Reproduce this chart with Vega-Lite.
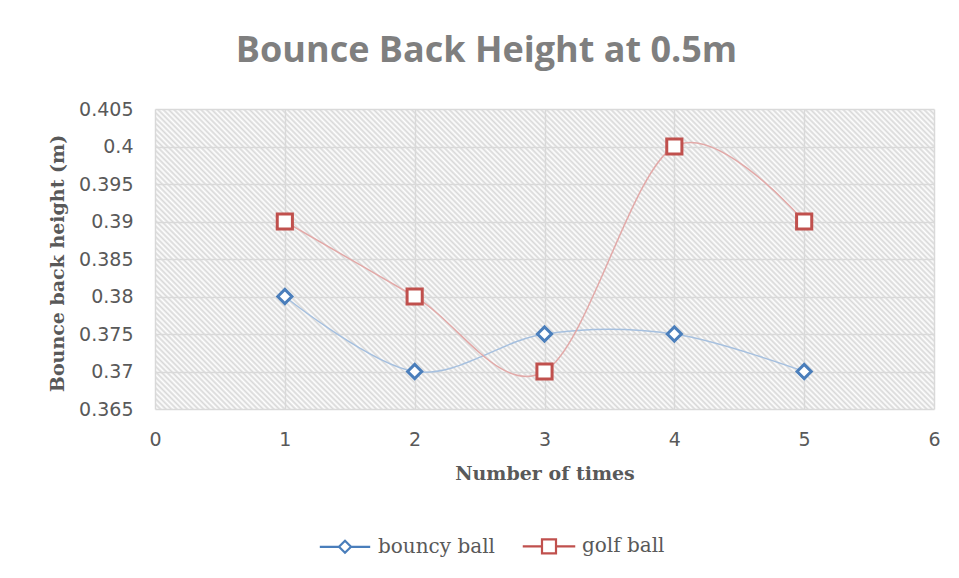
{
"$schema": "https://vega.github.io/schema/vega-lite/v6.json",
"width": 779,
"height": 300,
"autosize": {"type": "none"},
"padding": {"left": 155, "top": 109, "right": 25, "bottom": 169},
"background": "white",
"title": {"text": "Bounce Back Height at 0.5m", "font": "Open Sans", "fontSize": 36, "fontWeight": "bold", "color": "#7f7f7f", "anchor": "middle", "frame": "group", "dx": -58, "offset": 30},
"data": {"values": [
{"times": 1, "height": 0.38, "series": "bouncy ball"},
{"times": 2, "height": 0.37, "series": "bouncy ball"},
{"times": 3, "height": 0.375, "series": "bouncy ball"},
{"times": 4, "height": 0.375, "series": "bouncy ball"},
{"times": 5, "height": 0.37, "series": "bouncy ball"},
{"times": 1, "height": 0.39, "series": "golf ball"},
{"times": 2, "height": 0.38, "series": "golf ball"},
{"times": 3, "height": 0.37, "series": "golf ball"},
{"times": 4, "height": 0.4, "series": "golf ball"},
{"times": 5, "height": 0.39, "series": "golf ball"}
]},
"view": {"stroke": null, "fill": {"gradient": "linear", "x1": 0, "y1": 1, "x2": 1.2065, "y2": 0.5355, "stops": [
{"offset":0,"color":"#d8d8d8"},{"offset":0.0025,"color":"#fff"},{"offset":0.005,"color":"#d8d8d8"},{"offset":0.0075,"color":"#fff"},
{"offset":0.01,"color":"#d8d8d8"},{"offset":0.0125,"color":"#fff"},{"offset":0.015,"color":"#d8d8d8"},{"offset":0.0175,"color":"#fff"},
{"offset":0.02,"color":"#d8d8d8"},{"offset":0.0225,"color":"#fff"},{"offset":0.025,"color":"#d8d8d8"},{"offset":0.0275,"color":"#fff"},
{"offset":0.03,"color":"#d8d8d8"},{"offset":0.0325,"color":"#fff"},{"offset":0.035,"color":"#d8d8d8"},{"offset":0.0375,"color":"#fff"},
{"offset":0.04,"color":"#d8d8d8"},{"offset":0.0425,"color":"#fff"},{"offset":0.045,"color":"#d8d8d8"},{"offset":0.0475,"color":"#fff"},
{"offset":0.05,"color":"#d8d8d8"},{"offset":0.0525,"color":"#fff"},{"offset":0.055,"color":"#d8d8d8"},{"offset":0.0575,"color":"#fff"},
{"offset":0.06,"color":"#d8d8d8"},{"offset":0.0625,"color":"#fff"},{"offset":0.065,"color":"#d8d8d8"},{"offset":0.0675,"color":"#fff"},
{"offset":0.07,"color":"#d8d8d8"},{"offset":0.0725,"color":"#fff"},{"offset":0.075,"color":"#d8d8d8"},{"offset":0.0775,"color":"#fff"},
{"offset":0.08,"color":"#d8d8d8"},{"offset":0.0825,"color":"#fff"},{"offset":0.085,"color":"#d8d8d8"},{"offset":0.0875,"color":"#fff"},
{"offset":0.09,"color":"#d8d8d8"},{"offset":0.0925,"color":"#fff"},{"offset":0.095,"color":"#d8d8d8"},{"offset":0.0975,"color":"#fff"},
{"offset":0.10,"color":"#d8d8d8"},{"offset":0.1025,"color":"#fff"},{"offset":0.105,"color":"#d8d8d8"},{"offset":0.1075,"color":"#fff"},
{"offset":0.11,"color":"#d8d8d8"},{"offset":0.1125,"color":"#fff"},{"offset":0.115,"color":"#d8d8d8"},{"offset":0.1175,"color":"#fff"},
{"offset":0.12,"color":"#d8d8d8"},{"offset":0.1225,"color":"#fff"},{"offset":0.125,"color":"#d8d8d8"},{"offset":0.1275,"color":"#fff"},
{"offset":0.13,"color":"#d8d8d8"},{"offset":0.1325,"color":"#fff"},{"offset":0.135,"color":"#d8d8d8"},{"offset":0.1375,"color":"#fff"},
{"offset":0.14,"color":"#d8d8d8"},{"offset":0.1425,"color":"#fff"},{"offset":0.145,"color":"#d8d8d8"},{"offset":0.1475,"color":"#fff"},
{"offset":0.15,"color":"#d8d8d8"},{"offset":0.1525,"color":"#fff"},{"offset":0.155,"color":"#d8d8d8"},{"offset":0.1575,"color":"#fff"},
{"offset":0.16,"color":"#d8d8d8"},{"offset":0.1625,"color":"#fff"},{"offset":0.165,"color":"#d8d8d8"},{"offset":0.1675,"color":"#fff"},
{"offset":0.17,"color":"#d8d8d8"},{"offset":0.1725,"color":"#fff"},{"offset":0.175,"color":"#d8d8d8"},{"offset":0.1775,"color":"#fff"},
{"offset":0.18,"color":"#d8d8d8"},{"offset":0.1825,"color":"#fff"},{"offset":0.185,"color":"#d8d8d8"},{"offset":0.1875,"color":"#fff"},
{"offset":0.19,"color":"#d8d8d8"},{"offset":0.1925,"color":"#fff"},{"offset":0.195,"color":"#d8d8d8"},{"offset":0.1975,"color":"#fff"},
{"offset":0.20,"color":"#d8d8d8"},{"offset":0.2025,"color":"#fff"},{"offset":0.205,"color":"#d8d8d8"},{"offset":0.2075,"color":"#fff"},
{"offset":0.21,"color":"#d8d8d8"},{"offset":0.2125,"color":"#fff"},{"offset":0.215,"color":"#d8d8d8"},{"offset":0.2175,"color":"#fff"},
{"offset":0.22,"color":"#d8d8d8"},{"offset":0.2225,"color":"#fff"},{"offset":0.225,"color":"#d8d8d8"},{"offset":0.2275,"color":"#fff"},
{"offset":0.23,"color":"#d8d8d8"},{"offset":0.2325,"color":"#fff"},{"offset":0.235,"color":"#d8d8d8"},{"offset":0.2375,"color":"#fff"},
{"offset":0.24,"color":"#d8d8d8"},{"offset":0.2425,"color":"#fff"},{"offset":0.245,"color":"#d8d8d8"},{"offset":0.2475,"color":"#fff"},
{"offset":0.25,"color":"#d8d8d8"},{"offset":0.2525,"color":"#fff"},{"offset":0.255,"color":"#d8d8d8"},{"offset":0.2575,"color":"#fff"},
{"offset":0.26,"color":"#d8d8d8"},{"offset":0.2625,"color":"#fff"},{"offset":0.265,"color":"#d8d8d8"},{"offset":0.2675,"color":"#fff"},
{"offset":0.27,"color":"#d8d8d8"},{"offset":0.2725,"color":"#fff"},{"offset":0.275,"color":"#d8d8d8"},{"offset":0.2775,"color":"#fff"},
{"offset":0.28,"color":"#d8d8d8"},{"offset":0.2825,"color":"#fff"},{"offset":0.285,"color":"#d8d8d8"},{"offset":0.2875,"color":"#fff"},
{"offset":0.29,"color":"#d8d8d8"},{"offset":0.2925,"color":"#fff"},{"offset":0.295,"color":"#d8d8d8"},{"offset":0.2975,"color":"#fff"},
{"offset":0.30,"color":"#d8d8d8"},{"offset":0.3025,"color":"#fff"},{"offset":0.305,"color":"#d8d8d8"},{"offset":0.3075,"color":"#fff"},
{"offset":0.31,"color":"#d8d8d8"},{"offset":0.3125,"color":"#fff"},{"offset":0.315,"color":"#d8d8d8"},{"offset":0.3175,"color":"#fff"},
{"offset":0.32,"color":"#d8d8d8"},{"offset":0.3225,"color":"#fff"},{"offset":0.325,"color":"#d8d8d8"},{"offset":0.3275,"color":"#fff"},
{"offset":0.33,"color":"#d8d8d8"},{"offset":0.3325,"color":"#fff"},{"offset":0.335,"color":"#d8d8d8"},{"offset":0.3375,"color":"#fff"},
{"offset":0.34,"color":"#d8d8d8"},{"offset":0.3425,"color":"#fff"},{"offset":0.345,"color":"#d8d8d8"},{"offset":0.3475,"color":"#fff"},
{"offset":0.35,"color":"#d8d8d8"},{"offset":0.3525,"color":"#fff"},{"offset":0.355,"color":"#d8d8d8"},{"offset":0.3575,"color":"#fff"},
{"offset":0.36,"color":"#d8d8d8"},{"offset":0.3625,"color":"#fff"},{"offset":0.365,"color":"#d8d8d8"},{"offset":0.3675,"color":"#fff"},
{"offset":0.37,"color":"#d8d8d8"},{"offset":0.3725,"color":"#fff"},{"offset":0.375,"color":"#d8d8d8"},{"offset":0.3775,"color":"#fff"},
{"offset":0.38,"color":"#d8d8d8"},{"offset":0.3825,"color":"#fff"},{"offset":0.385,"color":"#d8d8d8"},{"offset":0.3875,"color":"#fff"},
{"offset":0.39,"color":"#d8d8d8"},{"offset":0.3925,"color":"#fff"},{"offset":0.395,"color":"#d8d8d8"},{"offset":0.3975,"color":"#fff"},
{"offset":0.40,"color":"#d8d8d8"},{"offset":0.4025,"color":"#fff"},{"offset":0.405,"color":"#d8d8d8"},{"offset":0.4075,"color":"#fff"},
{"offset":0.41,"color":"#d8d8d8"},{"offset":0.4125,"color":"#fff"},{"offset":0.415,"color":"#d8d8d8"},{"offset":0.4175,"color":"#fff"},
{"offset":0.42,"color":"#d8d8d8"},{"offset":0.4225,"color":"#fff"},{"offset":0.425,"color":"#d8d8d8"},{"offset":0.4275,"color":"#fff"},
{"offset":0.43,"color":"#d8d8d8"},{"offset":0.4325,"color":"#fff"},{"offset":0.435,"color":"#d8d8d8"},{"offset":0.4375,"color":"#fff"},
{"offset":0.44,"color":"#d8d8d8"},{"offset":0.4425,"color":"#fff"},{"offset":0.445,"color":"#d8d8d8"},{"offset":0.4475,"color":"#fff"},
{"offset":0.45,"color":"#d8d8d8"},{"offset":0.4525,"color":"#fff"},{"offset":0.455,"color":"#d8d8d8"},{"offset":0.4575,"color":"#fff"},
{"offset":0.46,"color":"#d8d8d8"},{"offset":0.4625,"color":"#fff"},{"offset":0.465,"color":"#d8d8d8"},{"offset":0.4675,"color":"#fff"},
{"offset":0.47,"color":"#d8d8d8"},{"offset":0.4725,"color":"#fff"},{"offset":0.475,"color":"#d8d8d8"},{"offset":0.4775,"color":"#fff"},
{"offset":0.48,"color":"#d8d8d8"},{"offset":0.4825,"color":"#fff"},{"offset":0.485,"color":"#d8d8d8"},{"offset":0.4875,"color":"#fff"},
{"offset":0.49,"color":"#d8d8d8"},{"offset":0.4925,"color":"#fff"},{"offset":0.495,"color":"#d8d8d8"},{"offset":0.4975,"color":"#fff"},
{"offset":0.50,"color":"#d8d8d8"},{"offset":0.5025,"color":"#fff"},{"offset":0.505,"color":"#d8d8d8"},{"offset":0.5075,"color":"#fff"},
{"offset":0.51,"color":"#d8d8d8"},{"offset":0.5125,"color":"#fff"},{"offset":0.515,"color":"#d8d8d8"},{"offset":0.5175,"color":"#fff"},
{"offset":0.52,"color":"#d8d8d8"},{"offset":0.5225,"color":"#fff"},{"offset":0.525,"color":"#d8d8d8"},{"offset":0.5275,"color":"#fff"},
{"offset":0.53,"color":"#d8d8d8"},{"offset":0.5325,"color":"#fff"},{"offset":0.535,"color":"#d8d8d8"},{"offset":0.5375,"color":"#fff"},
{"offset":0.54,"color":"#d8d8d8"},{"offset":0.5425,"color":"#fff"},{"offset":0.545,"color":"#d8d8d8"},{"offset":0.5475,"color":"#fff"},
{"offset":0.55,"color":"#d8d8d8"},{"offset":0.5525,"color":"#fff"},{"offset":0.555,"color":"#d8d8d8"},{"offset":0.5575,"color":"#fff"},
{"offset":0.56,"color":"#d8d8d8"},{"offset":0.5625,"color":"#fff"},{"offset":0.565,"color":"#d8d8d8"},{"offset":0.5675,"color":"#fff"},
{"offset":0.57,"color":"#d8d8d8"},{"offset":0.5725,"color":"#fff"},{"offset":0.575,"color":"#d8d8d8"},{"offset":0.5775,"color":"#fff"},
{"offset":0.58,"color":"#d8d8d8"},{"offset":0.5825,"color":"#fff"},{"offset":0.585,"color":"#d8d8d8"},{"offset":0.5875,"color":"#fff"},
{"offset":0.59,"color":"#d8d8d8"},{"offset":0.5925,"color":"#fff"},{"offset":0.595,"color":"#d8d8d8"},{"offset":0.5975,"color":"#fff"},
{"offset":0.60,"color":"#d8d8d8"},{"offset":0.6025,"color":"#fff"},{"offset":0.605,"color":"#d8d8d8"},{"offset":0.6075,"color":"#fff"},
{"offset":0.61,"color":"#d8d8d8"},{"offset":0.6125,"color":"#fff"},{"offset":0.615,"color":"#d8d8d8"},{"offset":0.6175,"color":"#fff"},
{"offset":0.62,"color":"#d8d8d8"},{"offset":0.6225,"color":"#fff"},{"offset":0.625,"color":"#d8d8d8"},{"offset":0.6275,"color":"#fff"},
{"offset":0.63,"color":"#d8d8d8"},{"offset":0.6325,"color":"#fff"},{"offset":0.635,"color":"#d8d8d8"},{"offset":0.6375,"color":"#fff"},
{"offset":0.64,"color":"#d8d8d8"},{"offset":0.6425,"color":"#fff"},{"offset":0.645,"color":"#d8d8d8"},{"offset":0.6475,"color":"#fff"},
{"offset":0.65,"color":"#d8d8d8"},{"offset":0.6525,"color":"#fff"},{"offset":0.655,"color":"#d8d8d8"},{"offset":0.6575,"color":"#fff"},
{"offset":0.66,"color":"#d8d8d8"},{"offset":0.6625,"color":"#fff"},{"offset":0.665,"color":"#d8d8d8"},{"offset":0.6675,"color":"#fff"},
{"offset":0.67,"color":"#d8d8d8"},{"offset":0.6725,"color":"#fff"},{"offset":0.675,"color":"#d8d8d8"},{"offset":0.6775,"color":"#fff"},
{"offset":0.68,"color":"#d8d8d8"},{"offset":0.6825,"color":"#fff"},{"offset":0.685,"color":"#d8d8d8"},{"offset":0.6875,"color":"#fff"},
{"offset":0.69,"color":"#d8d8d8"},{"offset":0.6925,"color":"#fff"},{"offset":0.695,"color":"#d8d8d8"},{"offset":0.6975,"color":"#fff"},
{"offset":0.70,"color":"#d8d8d8"},{"offset":0.7025,"color":"#fff"},{"offset":0.705,"color":"#d8d8d8"},{"offset":0.7075,"color":"#fff"},
{"offset":0.71,"color":"#d8d8d8"},{"offset":0.7125,"color":"#fff"},{"offset":0.715,"color":"#d8d8d8"},{"offset":0.7175,"color":"#fff"},
{"offset":0.72,"color":"#d8d8d8"},{"offset":0.7225,"color":"#fff"},{"offset":0.725,"color":"#d8d8d8"},{"offset":0.7275,"color":"#fff"},
{"offset":0.73,"color":"#d8d8d8"},{"offset":0.7325,"color":"#fff"},{"offset":0.735,"color":"#d8d8d8"},{"offset":0.7375,"color":"#fff"},
{"offset":0.74,"color":"#d8d8d8"},{"offset":0.7425,"color":"#fff"},{"offset":0.745,"color":"#d8d8d8"},{"offset":0.7475,"color":"#fff"},
{"offset":0.75,"color":"#d8d8d8"},{"offset":0.7525,"color":"#fff"},{"offset":0.755,"color":"#d8d8d8"},{"offset":0.7575,"color":"#fff"},
{"offset":0.76,"color":"#d8d8d8"},{"offset":0.7625,"color":"#fff"},{"offset":0.765,"color":"#d8d8d8"},{"offset":0.7675,"color":"#fff"},
{"offset":0.77,"color":"#d8d8d8"},{"offset":0.7725,"color":"#fff"},{"offset":0.775,"color":"#d8d8d8"},{"offset":0.7775,"color":"#fff"},
{"offset":0.78,"color":"#d8d8d8"},{"offset":0.7825,"color":"#fff"},{"offset":0.785,"color":"#d8d8d8"},{"offset":0.7875,"color":"#fff"},
{"offset":0.79,"color":"#d8d8d8"},{"offset":0.7925,"color":"#fff"},{"offset":0.795,"color":"#d8d8d8"},{"offset":0.7975,"color":"#fff"},
{"offset":0.80,"color":"#d8d8d8"},{"offset":0.8025,"color":"#fff"},{"offset":0.805,"color":"#d8d8d8"},{"offset":0.8075,"color":"#fff"},
{"offset":0.81,"color":"#d8d8d8"},{"offset":0.8125,"color":"#fff"},{"offset":0.815,"color":"#d8d8d8"},{"offset":0.8175,"color":"#fff"},
{"offset":0.82,"color":"#d8d8d8"},{"offset":0.8225,"color":"#fff"},{"offset":0.825,"color":"#d8d8d8"},{"offset":0.8275,"color":"#fff"},
{"offset":0.83,"color":"#d8d8d8"},{"offset":0.8325,"color":"#fff"},{"offset":0.835,"color":"#d8d8d8"},{"offset":0.8375,"color":"#fff"},
{"offset":0.84,"color":"#d8d8d8"},{"offset":0.8425,"color":"#fff"},{"offset":0.845,"color":"#d8d8d8"},{"offset":0.8475,"color":"#fff"},
{"offset":0.85,"color":"#d8d8d8"},{"offset":0.8525,"color":"#fff"},{"offset":0.855,"color":"#d8d8d8"},{"offset":0.8575,"color":"#fff"},
{"offset":0.86,"color":"#d8d8d8"},{"offset":0.8625,"color":"#fff"},{"offset":0.865,"color":"#d8d8d8"},{"offset":0.8675,"color":"#fff"},
{"offset":0.87,"color":"#d8d8d8"},{"offset":0.8725,"color":"#fff"},{"offset":0.875,"color":"#d8d8d8"},{"offset":0.8775,"color":"#fff"},
{"offset":0.88,"color":"#d8d8d8"},{"offset":0.8825,"color":"#fff"},{"offset":0.885,"color":"#d8d8d8"},{"offset":0.8875,"color":"#fff"},
{"offset":0.89,"color":"#d8d8d8"},{"offset":0.8925,"color":"#fff"},{"offset":0.895,"color":"#d8d8d8"},{"offset":0.8975,"color":"#fff"},
{"offset":0.90,"color":"#d8d8d8"},{"offset":0.9025,"color":"#fff"},{"offset":0.905,"color":"#d8d8d8"},{"offset":0.9075,"color":"#fff"},
{"offset":0.91,"color":"#d8d8d8"},{"offset":0.9125,"color":"#fff"},{"offset":0.915,"color":"#d8d8d8"},{"offset":0.9175,"color":"#fff"},
{"offset":0.92,"color":"#d8d8d8"},{"offset":0.9225,"color":"#fff"},{"offset":0.925,"color":"#d8d8d8"},{"offset":0.9275,"color":"#fff"},
{"offset":0.93,"color":"#d8d8d8"},{"offset":0.9325,"color":"#fff"},{"offset":0.935,"color":"#d8d8d8"},{"offset":0.9375,"color":"#fff"},
{"offset":0.94,"color":"#d8d8d8"},{"offset":0.9425,"color":"#fff"},{"offset":0.945,"color":"#d8d8d8"},{"offset":0.9475,"color":"#fff"},
{"offset":0.95,"color":"#d8d8d8"},{"offset":0.9525,"color":"#fff"},{"offset":0.955,"color":"#d8d8d8"},{"offset":0.9575,"color":"#fff"},
{"offset":0.96,"color":"#d8d8d8"},{"offset":0.9625,"color":"#fff"},{"offset":0.965,"color":"#d8d8d8"},{"offset":0.9675,"color":"#fff"},
{"offset":0.97,"color":"#d8d8d8"},{"offset":0.9725,"color":"#fff"},{"offset":0.975,"color":"#d8d8d8"},{"offset":0.9775,"color":"#fff"},
{"offset":0.98,"color":"#d8d8d8"},{"offset":0.9825,"color":"#fff"},{"offset":0.985,"color":"#d8d8d8"},{"offset":0.9875,"color":"#fff"},
{"offset":0.99,"color":"#d8d8d8"},{"offset":0.9925,"color":"#fff"},{"offset":0.995,"color":"#d8d8d8"},{"offset":0.9975,"color":"#fff"},
{"offset":1,"color":"#d8d8d8"}
]}},
"encoding": {
"x": {"field": "times", "type": "quantitative", "scale": {"domain": [0, 6], "nice": false},
"axis": {"values": [0, 1, 2, 3, 4, 5, 6], "format": "d", "title": "Number of times", "titleFont": "DejaVu Serif", "titleFontWeight": "bold", "titleFontSize": 19, "titleColor": "#595959", "titleY": 70, "titleBaseline": "alphabetic", "labelFont": "DejaVu Sans", "labelFontSize": 19, "labelColor": "#595959", "labelPadding": 21, "ticks": false, "tickSize": 0, "domain": false, "grid": true, "gridColor": "#d9d9d9", "gridWidth": 1.5, "labelFlush": false}},
"y": {"field": "height", "type": "quantitative", "scale": {"domain": [0.365, 0.405], "nice": false, "zero": false},
"axis": {"values": [0.365, 0.37, 0.375, 0.38, 0.385, 0.39, 0.395, 0.4, 0.405], "format": ".3~f", "title": "Bounce back height (m)", "titleFont": "DejaVu Serif", "titleFontWeight": "bold", "titleFontSize": 19, "titleColor": "#595959", "titleAngle": 270, "titleX": -98, "titleY": 154, "titleAlign": "center", "titleBaseline": "middle", "labelFont": "DejaVu Sans", "labelFontSize": 19, "labelColor": "#595959", "labelPadding": 22, "ticks": false, "tickSize": 0, "domain": false, "grid": true, "gridColor": "#d9d9d9", "gridWidth": 1.5, "labelFlush": false}}
},
"layer": [
{"transform": [{"filter": "datum.series === 'bouncy ball'"}],
"mark": {"type": "line", "interpolate": "cardinal", "strokeWidth": 1.5, "color": "#a6c0df"}},
{"transform": [{"filter": "datum.series === 'golf ball'"}],
"mark": {"type": "line", "interpolate": "cardinal", "strokeWidth": 1.5, "color": "#e2a9a8"}},
{"transform": [{"filter": "datum.series === 'bouncy ball'"}],
"mark": {"type": "point", "shape": "diamond", "filled": false, "fill": "white", "color": "#4a7ebb", "strokeWidth": 3, "opacity": 1, "size": 200}},
{"transform": [{"filter": "datum.series === 'golf ball'"}],
"mark": {"type": "point", "shape": "square", "filled": false, "fill": "white", "color": "#c0504d", "strokeWidth": 3, "opacity": 1, "size": 230}},
{"transform": [{"filter": "false"}],
"mark": {"type": "point", "filled": false, "fill": "white", "strokeWidth": 2.2, "opacity": 1},
"encoding": {
"shape": {"field": "series", "type": "nominal", "scale": {"domain": ["bouncy ball", "golf ball"], "range": ["M-3.6,0L-0.86,0M0.86,0L3.6,0M0,-0.86L0.86,0L0,0.86L-0.86,0Z", "M-3.75,0L-1,0M1,0L3.75,0M-1,-1L1,-1L1,1L-1,1Z"]},
"legend": {"orient": "none", "legendX": 180, "legendY": 427, "direction": "horizontal", "title": null, "labelFont": "DejaVu Serif", "labelFontSize": 20, "labelColor": "#595959", "symbolSize": 196, "symbolStrokeWidth": 2.2, "symbolFillColor": "white", "labelOffset": 23, "columnPadding": 23, "padding": 0}},
"color": {"field": "series", "type": "nominal", "scale": {"domain": ["bouncy ball", "golf ball"], "range": ["#4a7ebb", "#c0504d"]},
"legend": {"orient": "none", "legendX": 180, "legendY": 427, "direction": "horizontal", "title": null, "labelFont": "DejaVu Serif", "labelFontSize": 20, "labelColor": "#595959", "symbolSize": 196, "symbolStrokeWidth": 2.2, "symbolFillColor": "white", "labelOffset": 23, "columnPadding": 23, "padding": 0}}
}}
]
}
